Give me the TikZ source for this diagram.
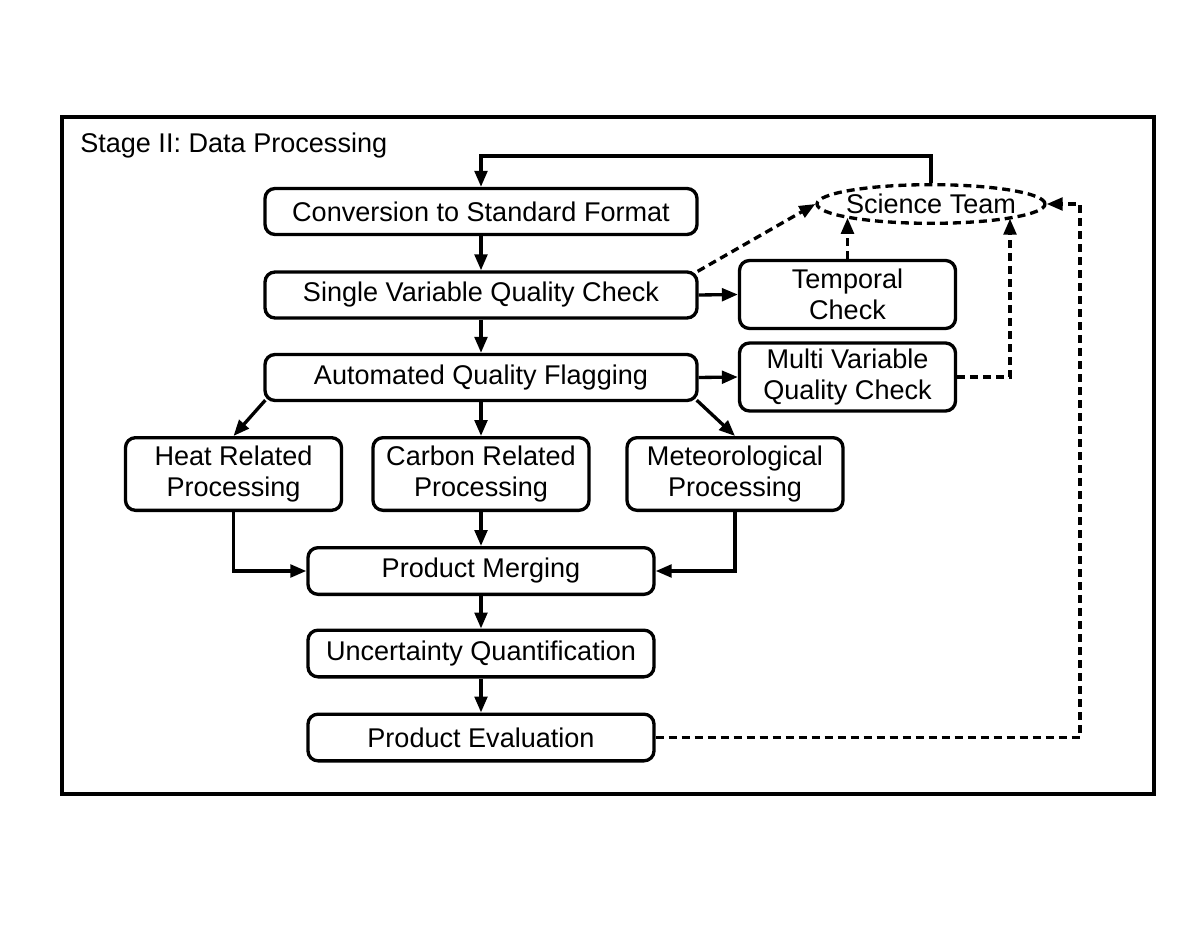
\documentclass[tikz,border=0pt]{standalone}
\usepackage{fontspec}
\setmainfont{Liberation Sans}
\usetikzlibrary{arrows.meta,shapes.geometric,calc}
\begin{document}
\begin{tikzpicture}[x=0.75pt,y=-0.75pt,
  every node/.style={font=\fontsize{20.3}{23}\selectfont},
  box/.style={draw, line width=2.5pt, rounded corners=7.5pt, align=center, inner sep=0pt},
  widebox/.style={box, minimum width=324pt, minimum height=34.5pt},
  sidebox/.style={box, minimum width=162pt, minimum height=51pt},
  procbox/.style={box, minimum width=162pt, minimum height=54.5pt},
  lowbox/.style={box, minimum width=259.5pt, minimum height=35pt},
  ovalbox/.style={draw, ellipse, line width=2.5pt, dash pattern=on 6pt off 3.75pt, inner xsep=-4pt, inner ysep=0pt, minimum width=171pt, minimum height=29pt},
  conn/.style={line width=2.5pt, -{Triangle[length=12pt,width=9.5pt]}},
  dconn/.style={conn, dash pattern=on 6pt off 3.75pt},
]
\useasboundingbox (0,0) rectangle (1200,927);
\draw[line width=2.5pt] (62,117) rectangle (1154,794);
\node[anchor=base west, inner sep=0pt] (title) at (80,153) {Stage II: Data Processing};

\node[widebox] (conv) at (481,211.5) {Conversion to Standard Format};
\node[widebox] (single) at (481,295) {Single Variable Quality Check};
\node[widebox] (auto) at (481,377.5) {Automated Quality Flagging};
\node[sidebox] (temp) at (847.5,294.5) {Temporal\\Check};
\node[sidebox] (multi) at (847.5,377) {Multi Variable\\Quality Check};
\node[ovalbox] (sci) at (931,204) {Science Team};
\node[procbox] (heat) at (233.5,474) {Heat Related\\Processing};
\node[procbox] (carbon) at (481,474) {Carbon Related\\Processing};
\node[procbox] (met) at (735,474) {Meteorological\\Processing};
\node[lowbox] (merge) at (481,571) {Product Merging};
\node[lowbox] (unc) at (481,653.5) {Uncertainty Quantification};
\node[lowbox] (eval) at (481,737.5) {Product Evaluation};

\coordinate (fb) at (931,156);
\coordinate (mv) at (1010,377);
\coordinate (ev) at (1080,737.5);

\draw[conn] (conv.south) -- (single.north);
\draw[conn] (single.south) -- (auto.north);
\draw[conn] (single.east) -- (temp.west);
\draw[conn] (auto.east) -- (multi.west);
\draw[conn] ($(auto.south west)+(2,-2)$) -- (heat.north);
\draw[conn] (auto.south) -- (carbon.north);
\draw[conn] ($(auto.south east)+(-2,-2)$) -- (met.north);
\draw[conn] (carbon.south) -- (merge.north);
\draw[conn] (heat.south) |- (merge.west);
\draw[conn] (met.south) |- (merge.east);
\draw[conn] (merge.south) -- (unc.north);
\draw[conn] (unc.south) -- (eval.north);
\draw[conn] (sci.north) -- (fb) -| (conv.north);

\draw[dconn] ($(single.north east)+(-1,1)$) -- (sci.west);
\draw[dconn] (temp.north) -- (temp.north |- sci.189);
\draw[dconn] (multi.east) -- (mv) -- (mv |- sci.350);
\draw[dconn] (eval.east) -- (ev) |- (sci.east);
\end{tikzpicture}
\end{document}
